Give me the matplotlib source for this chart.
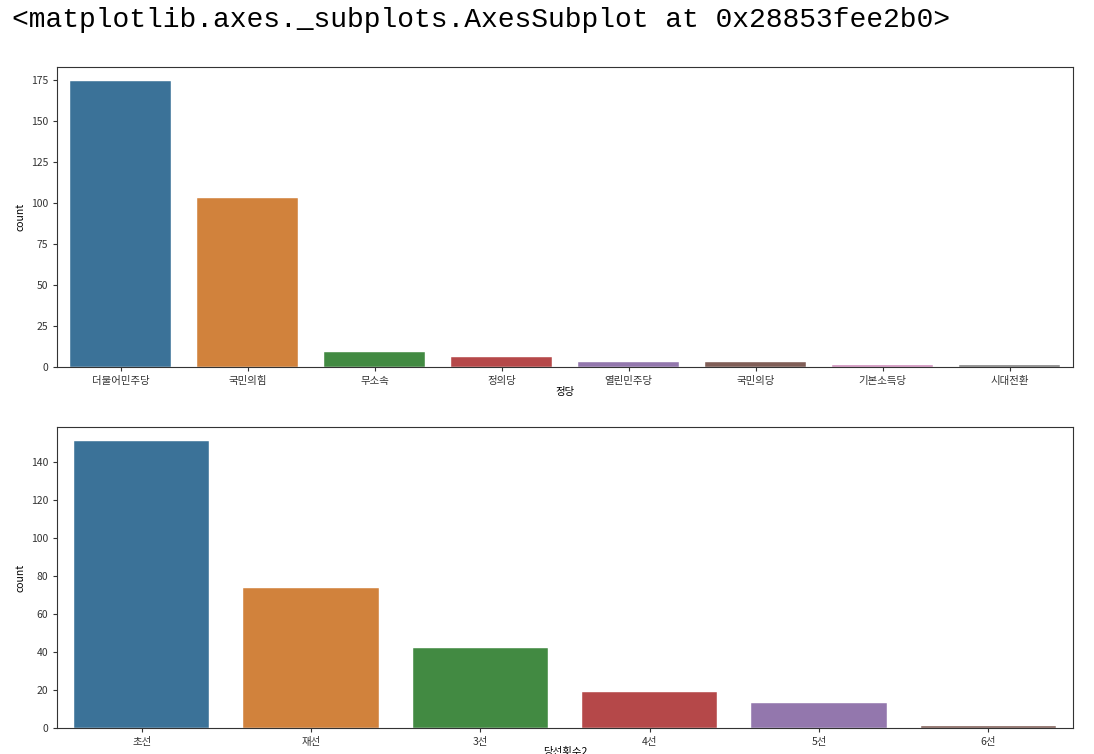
import matplotlib
matplotlib.use('Agg')
import matplotlib.pyplot as plt
import seaborn as sns

# 정당별 의원 수
parties = ['더불어민주당', '국민의힘', '무소속', '정의당', '열린민주당', '국민의당', '기본소득당', '시대전환']
party_counts = [174, 103, 9, 6, 3, 3, 1, 1]

# 당선횟수별 의원 수
terms = ['초선', '재선', '3선', '4선', '5선', '6선']
term_counts = [151, 74, 42, 19, 13, 1]

plt.rcParams['font.family'] = ['Noto Sans CJK KR', 'DejaVu Sans']
plt.rcParams['axes.unicode_minus'] = False

W, H = 1094, 754
fig = plt.figure(figsize=(W / 100, H / 100), dpi=100)
ax1 = fig.add_axes([57 / W, 1 - 367 / H, 1016 / W, 300 / H])
ax2 = fig.add_axes([57 / W, 1 - 728 / H, 1016 / W, 301 / H])

# countplot 색 (tab10, 채도 낮춤)
pal = sns.color_palette('tab10', 8, desat=0.62)

sns.barplot(x=parties, y=party_counts, hue=parties, palette=pal, saturation=1,
            legend=False, ax=ax1)
ax1.set_xlabel('정당', fontsize=7.5, labelpad=1)
ax1.set_ylabel('count', fontsize=7.5)
ax1.set_yticks([0, 25, 50, 75, 100, 125, 150, 175])

sns.barplot(x=terms, y=term_counts, hue=terms, palette=pal[:6], saturation=1,
            legend=False, ax=ax2)
ax2.set_xlabel('당선횟수2', fontsize=7.5, labelpad=0)
ax2.set_ylabel('count', fontsize=7.5)
ax2.set_yticks([0, 20, 40, 60, 80, 100, 120, 140])

for ax in (ax1, ax2):
    ax.tick_params(labelsize=7.5, length=3, width=0.8, colors='#333333')
    for s in ax.spines.values():
        s.set_color('#333333')
        s.set_linewidth(0.8)
    for p in ax.patches:
        p.set_edgecolor('white')
        p.set_linewidth(0.3)

fig.text(12 / W, 1 - 20 / H, '<matplotlib.axes._subplots.AxesSubplot at 0x28853fee2b0>',
         family='Liberation Mono', fontsize=20.2, va='center', ha='left')

fig.savefig('out.png', dpi=100)
